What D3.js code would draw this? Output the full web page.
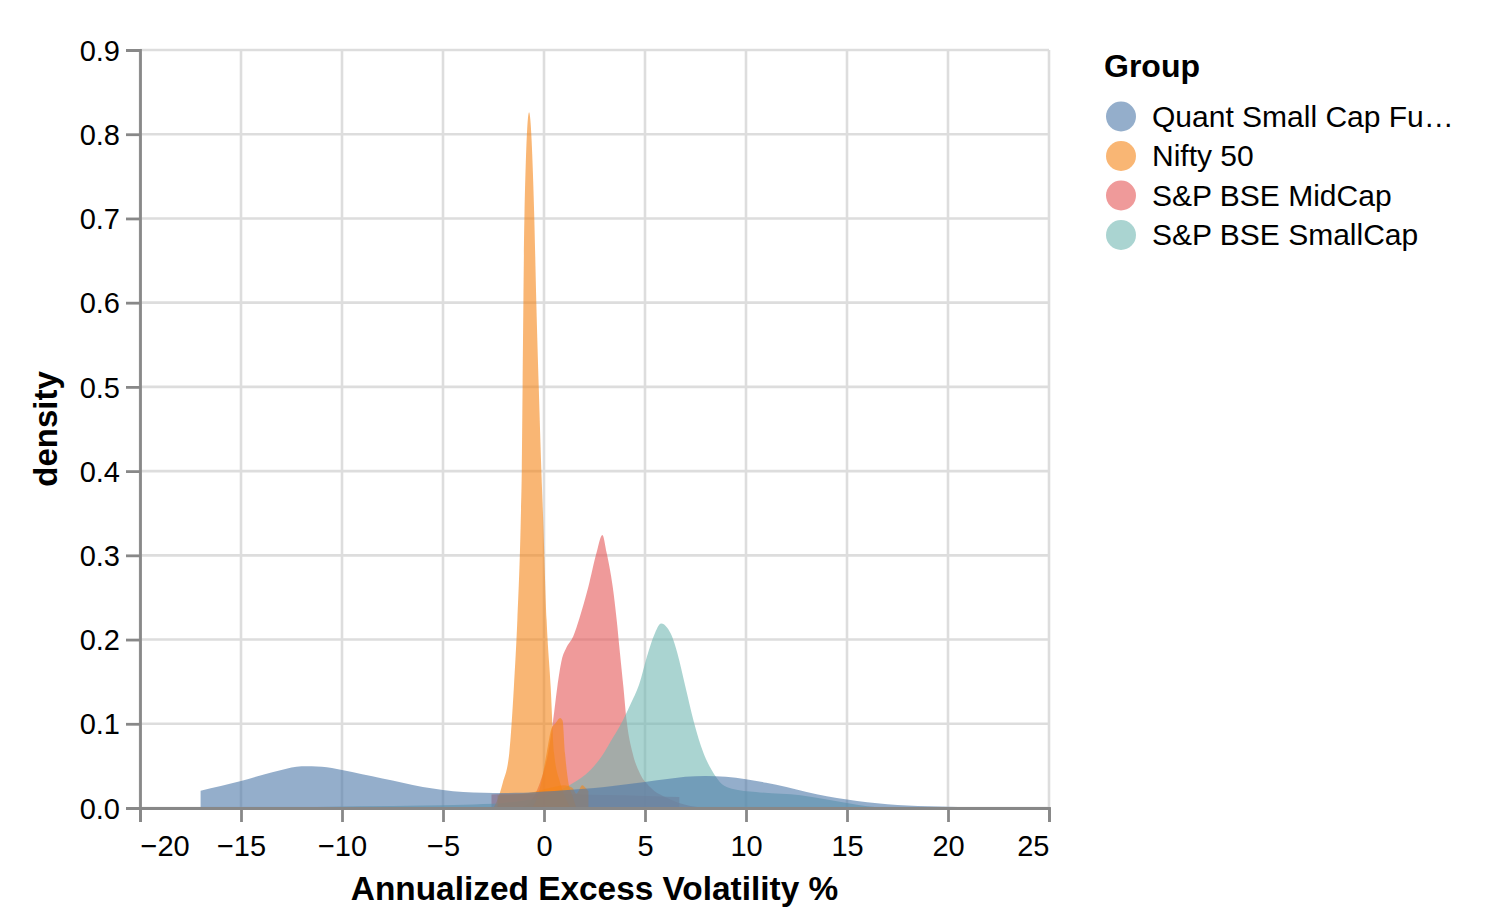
<!DOCTYPE html>
<html>
<head>
<meta charset="utf-8">
<script src="https://cdn.jsdelivr.net/npm/d3@7"></script>
<style>
  body { margin: 0; background: #fff; }
  svg { font-family: "Liberation Sans", Arial, Helvetica, sans-serif; }
</style>
</head>
<body>
<div id="chart"></div>
<script>
// groups and colours (legend order)
const groups = ["Quant Small Cap Fund Growth", "Nifty 50", "S&P BSE MidCap", "S&P BSE SmallCap"];
const groupColors = ["#4c78a8", "#f58518", "#e45756", "#72b7b2"];

const xTicks = [-20, -15, -10, -5, 0, 5, 10, 15, 20, 25];
const yTicks = [0, 0.1, 0.2, 0.3, 0.4, 0.5, 0.6, 0.7, 0.8, 0.9];

// density estimates: [value, density]
const quantMain = [[-17, 0.0205], [-16, 0.026], [-15, 0.032], [-14, 0.039], [-13, 0.045], [-12, 0.0495],
  [-11, 0.049], [-10, 0.045], [-9, 0.040], [-8, 0.035], [-7, 0.030], [-6, 0.025], [-5, 0.0215],
  [-4, 0.019], [-3, 0.018], [-2, 0.0178], [-1, 0.018], [0, 0.0195], [1, 0.021], [2, 0.023],
  [3, 0.025], [4, 0.028], [5, 0.031], [6, 0.034], [7, 0.037], [8, 0.038], [9, 0.037], [10, 0.034],
  [11, 0.030], [12, 0.025], [13, 0.019], [14, 0.014], [15, 0.010], [16, 0.0068], [17, 0.0045],
  [18, 0.003], [19, 0.002], [20, 0.0014], [21, 0.0007], [22, 0.0002], [23, 0]];

const niftyMain = [[-2.5, 0], [-2.3, 0.01], [-2.04, 0.03], [-1.72, 0.065], [-1.49, 0.144], [-1.32, 0.223],
  [-1.15, 0.342], [-1.1, 0.4], [-1.06, 0.5], [-1.02, 0.6], [-0.97, 0.7], [-0.74, 0.826], [-0.48, 0.7],
  [-0.38, 0.6], [-0.26, 0.5], [-0.13, 0.4], [-0.04, 0.342], [0.13, 0.223], [0.33, 0.144], [0.5, 0.065],
  [0.8, 0.03], [1.1, 0.01], [1.3, 0]];
const niftySpike = [[-0.6, 0], [-0.3, 0.015], [-0.1, 0.035], [0.13, 0.065], [0.38, 0.095], [0.55, 0.1],
  [0.8, 0.107], [0.92, 0.104], [1.04, 0.065], [1.19, 0.033], [1.4, 0.015], [1.6, 0]];
const niftyLow = [[-2.3, 0.015], [-1.5, 0.016], [-0.5, 0.019], [0.3, 0.024], [1.0, 0.027], [1.4, 0.024],
  [1.6, 0.017], [1.9, 0.027], [2.05, 0.024], [2.2, 0.02]];

const midcapMain = [[-1.2, 0], [-0.6, 0.01], [-0.2, 0.03], [0.2, 0.065], [0.45, 0.104], [0.66, 0.144],
  [0.88, 0.176], [1.1, 0.19], [1.45, 0.204], [1.75, 0.225], [2.2, 0.263], [2.6, 0.303], [2.89, 0.324],
  [3.1, 0.303], [3.4, 0.263], [3.6, 0.223], [3.76, 0.184], [3.93, 0.144], [4.09, 0.104], [4.39, 0.065],
  [4.75, 0.041], [5.25, 0.025], [6.1, 0.012], [7, 0.004], [8, 0]];
const midcapLow = [[-2.6, 0.016], [-1.5, 0.017], [0, 0.017], [2, 0.016], [4, 0.015], [5.5, 0.014], [6.7, 0.013]];

const smallcapMain = [[-14, 0], [-12, 0.001], [-9, 0.002], [-6, 0.003], [-4, 0.004], [-2, 0.006],
  [-1, 0.009], [0, 0.013], [0.6, 0.019], [1.4, 0.029], [2.3, 0.045], [2.9, 0.063], [3.4, 0.083],
  [3.9, 0.104], [4.3, 0.124], [4.7, 0.146], [5.15, 0.184], [5.45, 0.205], [5.8, 0.219], [6.1, 0.214],
  [6.35, 0.203], [6.6, 0.184], [7.0, 0.144], [7.4, 0.104], [7.9, 0.065], [8.3, 0.045], [8.7, 0.031],
  [9.3, 0.023], [10.5, 0.019], [12.7, 0.015], [14, 0.01], [15, 0.006], [16, 0.002], [17, 0]];

// draw order (bottom to top)
const layers = [
  {group: "S&P BSE MidCap", values: midcapLow},
  {group: "S&P BSE MidCap", values: midcapMain},
  {group: "S&P BSE SmallCap", values: smallcapMain},
  {group: "Nifty 50", values: niftyLow},
  {group: "Nifty 50", values: niftyMain},
  {group: "Nifty 50", values: niftySpike},
  {group: "Quant Small Cap Fund Growth", values: quantMain}
];

const width = 1488, height = 919;
const plot = {left: 140, right: 1049, top: 50, bottom: 808};

const svg = d3.select("#chart").append("svg")
  .attr("width", width)
  .attr("height", height);

const x = d3.scaleLinear().domain([-20, 25]).range([plot.left, plot.right]);
const y = d3.scaleLinear().domain([0, 0.9]).range([plot.bottom, plot.top]);
const color = d3.scaleOrdinal().domain(groups).range(groupColors);

// grid
svg.append("g")
  .selectAll("line")
  .data(xTicks)
  .join("line")
    .attr("x1", d => x(d)).attr("x2", d => x(d))
    .attr("y1", plot.top).attr("y2", plot.bottom)
    .attr("stroke", "#ddd").attr("stroke-width", 2.6);

svg.append("g")
  .selectAll("line")
  .data(yTicks)
  .join("line")
    .attr("x1", plot.left).attr("x2", plot.right)
    .attr("y1", d => y(d)).attr("y2", d => y(d))
    .attr("stroke", "#ddd").attr("stroke-width", 2.6);

// density areas
const area = d3.area()
  .curve(d3.curveMonotoneX)
  .x(d => x(d[0]))
  .y0(y(0))
  .y1(d => y(d[1]));

svg.append("g")
  .selectAll("path")
  .data(layers)
  .join("path")
    .attr("fill", d => color(d.group))
    .attr("fill-opacity", 0.6)
    .attr("d", d => area(d.values));

// axes
const xAxis = d3.axisBottom(x)
  .tickValues(xTicks)
  .tickSize(14)
  .tickPadding(6)
  .tickFormat(d3.format("d"));

const yAxis = d3.axisLeft(y)
  .tickValues(yTicks)
  .tickSize(14)
  .tickPadding(6)
  .tickFormat(d3.format(".1f"));

const gx = svg.append("g")
  .attr("transform", "translate(0," + plot.bottom + ")")
  .call(xAxis);

const gy = svg.append("g")
  .attr("transform", "translate(" + plot.left + ",0)")
  .call(yAxis);

[gx, gy].forEach(function(g) {
  g.select(".domain").attr("stroke", "#888").attr("stroke-width", 2.8);
  g.selectAll(".tick line").attr("stroke", "#888").attr("stroke-width", 2.8);
  g.selectAll(".tick text")
    .attr("fill", "#000")
    .style("font-size", "29px")
    .style("font-family", "'Liberation Sans', Arial, sans-serif");
});
gx.selectAll(".tick text").attr("dy", "0.95em");
gy.selectAll(".tick text").attr("dy", "0.35em");

// flush the end labels of the x axis inside the plot width
gx.selectAll(".tick text")
  .attr("text-anchor", (d, i, n) => i === 0 ? "start" : (i === n.length - 1 ? "end" : "middle"));

// axis titles
svg.append("text")
  .attr("x", (plot.left + plot.right) / 2)
  .attr("y", 900)
  .attr("text-anchor", "middle")
  .style("font-size", "33.4px")
  .style("font-weight", "bold")
  .text("Annualized Excess Volatility %");

svg.append("text")
  .attr("transform", "translate(57," + ((plot.top + plot.bottom) / 2) + ") rotate(-90)")
  .attr("text-anchor", "middle")
  .style("font-size", "33px")
  .style("font-weight", "bold")
  .text("density");

// legend
const legend = svg.append("g")
  .attr("transform", "translate(1104,0)");

legend.append("text")
  .attr("x", 0)
  .attr("y", 77)
  .style("font-size", "32px")
  .style("font-weight", "bold")
  .text("Group");

const rows = legend.selectAll(".row")
  .data(groups)
  .join("g")
    .attr("class", "row")
    .attr("transform", (d, i) => "translate(0," + (116.5 + i * 39.5) + ")");

rows.append("circle")
  .attr("cx", 17)
  .attr("cy", 0)
  .attr("r", 15)
  .attr("fill", d => color(d))
  .attr("fill-opacity", 0.6);

const labelLimit = 303;
rows.append("text")
  .attr("x", 48)
  .attr("y", 10)
  .style("font-size", "30px")
  .text(d => d)
  .each(function(d) {
    const node = this;
    if (node.getComputedTextLength() <= labelLimit) return;
    let s = d;
    while (s.length > 1) {
      s = s.slice(0, -1);
      node.textContent = s + "\u2026";
      if (node.getComputedTextLength() <= labelLimit) break;
    }
  });
</script>
</body>
</html>
